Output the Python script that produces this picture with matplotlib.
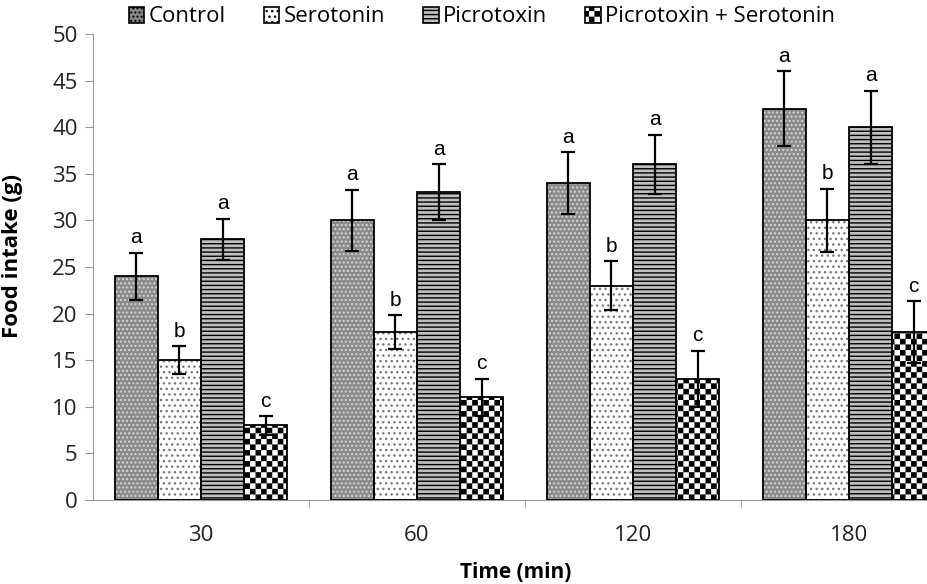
import warnings
import numpy as np
import matplotlib
matplotlib.use("Agg")
import matplotlib.pyplot as plt
import matplotlib.hatch as mhatch
from matplotlib.path import Path
from matplotlib.patches import Patch

warnings.filterwarnings("ignore")

# data
times = ["30", "60", "120", "180"]
groups = ["Control", "Serotonin", "Picrotoxin", "Picrotoxin + Serotonin"]
control = [24, 30, 34, 42]
serotonin = [15, 18, 23, 30]
picrotoxin = [28, 33, 36, 40]
pic_sero = [8, 11, 13, 18]
control_err = [2.5, 3.3, 3.3, 4.0]
serotonin_err = [1.5, 1.8, 2.6, 3.4]
picrotoxin_err = [2.2, 3.0, 3.2, 3.9]
pic_sero_err = [1.0, 2.0, 3.0, 3.3]
letters = ["a", "b", "a", "c"]


# checkerboard hatch ('c'), matplotlib has none built in
class CheckerHatch(mhatch.HatchPatternBase):
    def __init__(self, hatch, density):
        self.n = hatch.count("c") * density
        self.n += self.n % 2
        self.num_vertices = (self.n * self.n // 2) * 5

    def set_vertices_and_codes(self, vertices, codes):
        s = 1.0 / self.n
        d = 0.12 * s   # shrink a bit, the stroke widens each square
        sq = np.array([[d, d], [s - d, d], [s - d, s - d], [d, s - d], [d, d]])
        k = 0
        for i in range(self.n):
            for j in range(self.n):
                if (i + j) % 2 == 0:
                    vertices[k:k + 5] = sq + [i * s, j * s]
                    codes[k:k + 5] = [Path.MOVETO, Path.LINETO, Path.LINETO,
                                      Path.LINETO, Path.CLOSEPOLY]
                    k += 5


mhatch._hatch_types.append(CheckerHatch)

plt.rcParams["hatch.linewidth"] = 1.0
font = "Open Sans"

fig = plt.figure(figsize=(9.28, 5.84), dpi=100)
ax = fig.add_axes([0.1002, 0.1438, 0.931, 0.798])

x = np.arange(len(times))
w = 0.2
series = [control, serotonin, picrotoxin, pic_sero]
errs = [control_err, serotonin_err, picrotoxin_err, pic_sero_err]
# facecolor, hatch, hatch colour
styles = [("#8a8a8a", "....", "#d8d8d8"),
          ("white", "...", "#7a7a7a"),
          ("#c0c0c0", "----", "black"),
          ("white", "ccc", "black")]

for k in range(4):
    xs = x + (k - 1.5) * w
    fc, hatch, hc = styles[k]
    ax.bar(xs, series[k], w, color=fc, hatch=hatch, edgecolor=hc, linewidth=0, zorder=2)
    ax.bar(xs, series[k], w, facecolor="none", edgecolor="black", linewidth=1.3, zorder=3)
    ax.errorbar(xs, series[k], yerr=errs[k], fmt="none", ecolor="black",
                elinewidth=1.6, capsize=5, capthick=1.6, zorder=4)
    for xi, v, e in zip(xs, series[k], errs[k]):
        ax.text(xi, v + e + 0.6, letters[k], ha="center", va="bottom",
                fontsize=15, family="Liberation Sans")

ax.set_xlim(-0.5, 3.5)
ax.set_ylim(0, 50)
ax.set_yticks(np.arange(0, 51, 5))
ax.set_xticks(x)
ax.set_xticklabels(times)
ax.set_xticks(np.arange(0.5, 3.5, 1), minor=True)
ax.tick_params(axis="x", which="major", length=0, pad=18)
ax.tick_params(axis="x", which="minor", length=6, color="#999999", direction="out")
ax.tick_params(axis="y", length=6, color="#999999", direction="out", pad=5)
ax.tick_params(labelsize=16)
for lab in ax.get_xticklabels() + ax.get_yticklabels():
    lab.set_family(font)
    lab.set_color("#222222")
ax.spines["top"].set_visible(False)
ax.spines["right"].set_visible(False)
ax.spines["left"].set_color("#999999")
ax.spines["bottom"].set_color("#999999")

ax.set_ylabel("Food intake (g)", fontsize=16, fontweight="bold", family=font)
ax.yaxis.set_label_coords(-0.081, 0.524)
fig.text(516 / 928, 1 - 573 / 584, "Time (min)", ha="center", va="center",
         fontsize=15, fontweight="bold", family=font)

handles = [Patch(facecolor=s[0], hatch=s[1], edgecolor="black", linewidth=1.2)
           for s in styles]
fig.legend(handles, groups, loc="center", bbox_to_anchor=(482 / 928, 1 - 17 / 584),
           ncol=4, frameon=False, handlelength=0.7, handleheight=0.7,
           handletextpad=0.2, columnspacing=1.7, prop={"family": font, "size": 16})

fig.savefig("out.png", dpi=100)
